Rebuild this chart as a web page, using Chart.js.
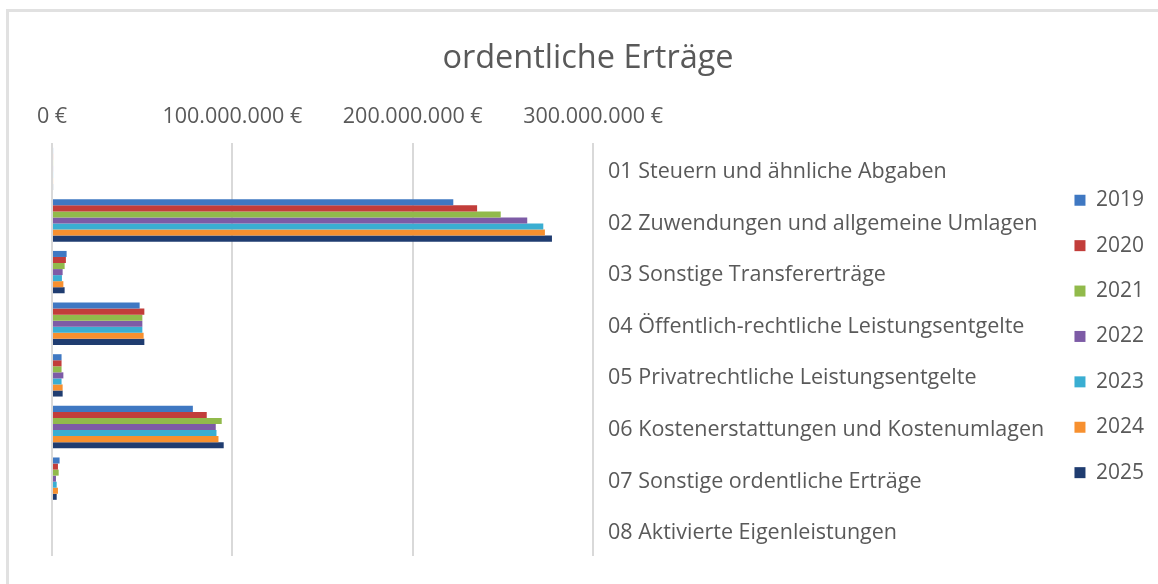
<!DOCTYPE html>
<html lang="de">
<head>
<meta charset="utf-8">
<title>ordentliche Erträge</title>
<script src="https://cdn.jsdelivr.net/npm/chart.js@4.4.1/dist/chart.umd.min.js"></script>
<style>
  html, body { margin: 0; padding: 0; background: #fff; }
  .frame {
    position: absolute; left: 6px; top: 9px; width: 1180px; height: 600px;
    border-top: 3px solid #e1e1e1; border-left: 3px solid #e1e1e1;
  }
  .wrap { position: absolute; left: 0; top: 0; width: 1158px; height: 584px; }
</style>
</head>
<body>
<div class="frame"></div>
<div class="wrap"><canvas id="chart" width="1158" height="584"></canvas></div>
<script>
const categories = [
  '01 Steuern und ähnliche Abgaben',
  '02 Zuwendungen und allgemeine Umlagen',
  '03 Sonstige Transfererträge',
  '04 Öffentlich-rechtliche Leistungsentgelte',
  '05 Privatrechtliche Leistungsentgelte',
  '06 Kostenerstattungen und Kostenumlagen',
  '07 Sonstige ordentliche Erträge',
  '08 Aktivierte Eigenleistungen'
];

const years = ['2019', '2020', '2021', '2022', '2023', '2024', '2025'];

// values in euro, one array per year, same order as categories
const values2019 = [600000, 222500000, 8100000, 48600000, 5300000, 78100000, 4200000, 0];
const values2020 = [600000, 235700000, 7700000, 51200000, 5300000, 85800000, 3300000, 0];
const values2021 = [600000, 248800000, 7000000, 50100000, 5300000, 94100000, 3700000, 0];
const values2022 = [600000, 263500000, 5900000, 50100000, 6300000, 90800000, 2200000, 0];
const values2023 = [600000, 272400000, 5500000, 50100000, 5300000, 91200000, 2600000, 0];
const values2024 = [600000, 273300000, 6300000, 50800000, 5900000, 92300000, 3300000, 0];
const values2025 = [600000, 277200000, 7000000, 51200000, 5900000, 95200000, 2600000, 0];

const axisMax = 300000000;
const axisStep = 100000000;

const seriesColors = ['#3f78c2', '#c23d3a', '#91ba4b', '#7d5ba6', '#3aaed2', '#f7902f', '#1f3c70'];

const textColor = '#595959';
Chart.defaults.font.family = '"Open Sans", "Noto Sans", sans-serif';

function formatEuro(value) {
  const digits = Math.round(value).toString();
  const grouped = digits.replace(/\B(?=(\d{3})+(?!\d))/g, '.');
  return `${grouped} €`;
}

function buildDatasets() {
  const allValues = [values2019, values2020, values2021, values2022, values2023, values2024, values2025];
  return years.map((year, i) => ({
    label: year,
    data: allValues[i],
    backgroundColor: seriesColors[i],
    borderWidth: 0,
    categoryPercentage: 0.82,
    barPercentage: 1.0
  }));
}

function renderChart() {
  const ctx = document.getElementById('chart').getContext('2d');

  new Chart(ctx, {
    type: 'bar',
    data: {
      labels: categories,
      datasets: buildDatasets()
    },
    options: {
      indexAxis: 'y',
      responsive: false,
      animation: false,
      layout: {
        padding: { left: 22, right: 4, top: 0, bottom: 27 }
      },
      plugins: {
        title: {
          display: true,
          text: 'ordentliche Erträge',
          color: textColor,
          font: { size: 32.5, weight: 'normal' },
          padding: { top: 39.5, bottom: 24.5 }
        },
        legend: {
          position: 'right',
          maxWidth: 108,
          title: {
            display: true,
            text: '',
            font: { size: 12 },
            padding: { top: 0, bottom: 101.5 }
          },
          labels: {
            boxWidth: 11,
            boxHeight: 11,
            padding: 24.4,
            color: textColor,
            font: { size: 21 }
          }
        },
        tooltip: { enabled: false }
      },
      scales: {
        x: {
          position: 'top',
          min: 0,
          max: axisMax,
          grid: { color: '#d9d9d9', lineWidth: 2, drawTicks: false },
          border: { display: false },
          ticks: {
            stepSize: axisStep,
            padding: 13,
            color: textColor,
            font: { size: 21.5 },
            maxRotation: 0,
            callback: (value) => formatEuro(value)
          },
          afterFit: (scale) => { scale.height = 40; }
        },
        // empty spacer on the left so the plot starts where the reference does
        spacer: {
          type: 'category',
          position: 'left',
          grid: { display: false, drawTicks: false },
          border: { display: false },
          ticks: { display: false },
          afterFit: (scale) => { scale.width = 30; }
        },
        y: {
          position: 'right',
          grid: { display: false, drawTicks: false },
          border: { display: false },
          ticks: {
            padding: 15,
            labelOffset: 3,
            color: textColor,
            font: { size: 21.5 }
          },
          afterFit: (scale) => { scale.width = 457; }
        }
      }
    }
  });
}

document.addEventListener('DOMContentLoaded', renderChart);
</script>
</body>
</html>
